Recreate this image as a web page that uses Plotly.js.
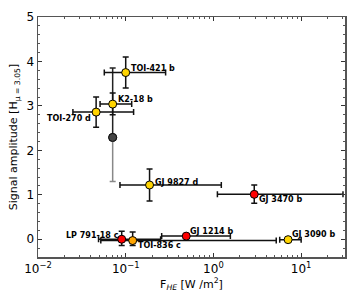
<!DOCTYPE html>
<html>
<head>
<meta charset="utf-8">
<script src="https://cdn.plot.ly/plotly-3.0.1.min.js"></script>
<style>html,body{margin:0;padding:0;background:#fff}#chart{width:357px;height:300px}</style>
</head>
<body>
<div id="chart"></div>
<script>
// Planet data
var names = ["TOI-421 b","K2-18 b","TOI-270 d","GJ 9827 d","GJ 3470 b","GJ 1214 b","GJ 3090 b","LP 791-18 c","TOI-836 c"];
var flux  = [0.10, 0.071, 0.046, 0.187, 2.92, 0.49, 7.1, 0.090, 0.120];
var fluxLo = [0.057, 0.051, 0.025, 0.086, 1.11, 0.257, 5.7, 0.049, 0.052];
var fluxHi = [0.285, 0.117, 0.123, 1.23, 30.0, 1.56, 10.0, 0.25, 5.2];
var amp   = [3.75, 3.04, 2.86, 1.22, 1.01, 0.07, -0.01, 0.00, -0.03];
var ampLo = [3.40, 2.80, 2.52, 0.86, 0.81, 0.04, -0.03, -0.14, -0.14];
var ampHi = [4.10, 3.29, 3.20, 1.58, 1.22, 0.10, 0.01, 0.18, 0.16];
var colors = ["#FFD400","#FFD400","#FFD400","#FFD400","#FF0000","#FF0000","#FFD400","#FF0000","#FFA500"];

// Grey (alternative K2-18 b) measurement
var greyFlux = [0.071];
var greyAmp = [2.29];
var greyAmpLo = [1.30];
var greyAmpHi = [3.85];

// Label placement (style): [xanchor, xshift, yshift]
var labelStyle = [
  ["left", 3, 4], ["left", 3, 5], ["right", -3, -6], ["left", 3, 3], ["left", 3, -5],
  ["left", 2, 5], ["left", 2, 5], ["right", -1, 4], ["left", 3, -5]
];

function diff(a, b) { return a.map(function(v, i){ return v - b[i]; }); }

var traces = [
  {
    x: greyFlux, y: greyAmp, type: "scatter", mode: "markers",
    marker: {size: 8, color: "#444", line: {color: "#111", width: 1}},
    error_y: {type: "data", symmetric: false, array: diff(greyAmpHi, greyAmp), arrayminus: [0], color: "#222", thickness: 1.5, width: 3},
    hoverinfo: "skip", showlegend: false
  },
  {
    x: greyFlux, y: greyAmp, type: "scatter", mode: "markers",
    marker: {size: 8, color: "#444", line: {color: "#111", width: 1}},
    error_y: {type: "data", symmetric: false, array: [0], arrayminus: diff(greyAmp, greyAmpLo), color: "#888", thickness: 1.5, width: 3},
    showlegend: false
  },
  {
    x: flux, y: amp, type: "scatter", mode: "markers", text: names,
    marker: {size: 8, color: colors, line: {color: "#000", width: 1}},
    error_x: {type: "data", symmetric: false, array: diff(fluxHi, flux), arrayminus: diff(flux, fluxLo), color: "#111", thickness: 1.5, width: 3},
    error_y: {type: "data", symmetric: false, array: diff(ampHi, amp), arrayminus: diff(amp, ampLo), color: "#111", thickness: 1.5, width: 3},
    showlegend: false
  }
];

var annotations = names.map(function(n, i){
  return {
    x: Math.log10(flux[i]), y: amp[i], xref: "x", yref: "y",
    text: "<b>" + n + "</b>", showarrow: false,
    xanchor: labelStyle[i][0], yanchor: "middle",
    xshift: labelStyle[i][1], yshift: labelStyle[i][2],
    font: {family: "DejaVu Sans", size: 8, color: "#000"}
  };
});

var xMinor = [];
[0.01, 0.1, 1, 10].forEach(function(d){ for (var k = 2; k <= 9; k++) xMinor.push(k * d); });

var layout = {
  width: 357, height: 300,
  margin: {l: 38, r: 12, t: 17, b: 43},
  paper_bgcolor: "#fff", plot_bgcolor: "#fff",
  font: {family: "DejaVu Sans", color: "#000"},
  xaxis: {
    type: "log", range: [-2, 1.5], automargin: true,
    tickvals: [0.01, 0.1, 1, 10], ticktext: ["10<sup>−2</sup>", "10<sup>−1</sup>", "10<sup>0</sup>", "10<sup>1</sup>"],
    ticks: "inside", ticklen: 4, tickwidth: 1, tickcolor: "#333",
    minor: {tickvals: xMinor, ticks: "inside", ticklen: 2, tickcolor: "#555", tickwidth: 1},
    showline: true, linecolor: "#555", linewidth: 1.5, mirror: "allticks",
    showgrid: false, zeroline: false,
    tickfont: {size: 12},
    title: {text: "F<sub><i>HE</i></sub> [W /m<sup>2</sup>]", font: {size: 11}, standoff: 4}
  },
  yaxis: {
    range: [-0.4, 5], dtick: 1, tick0: 0,
    ticks: "inside", ticklen: 4, tickwidth: 1, tickcolor: "#333",
    minor: {dtick: 0.2, tick0: 0, ticks: "inside", ticklen: 2, tickcolor: "#555", tickwidth: 1},
    showline: true, linecolor: "#555", linewidth: 1.5, mirror: "allticks",
    showgrid: false, zeroline: false,
    tickfont: {size: 12},
    title: {text: "Signal amplitude [H<sub>μ = 3.05</sub>]", font: {size: 11}, standoff: 6}
  },
  annotations: annotations
};

Plotly.newPlot("chart", traces, layout, {displayModeBar: false, staticPlot: true});
</script>
</body>
</html>
